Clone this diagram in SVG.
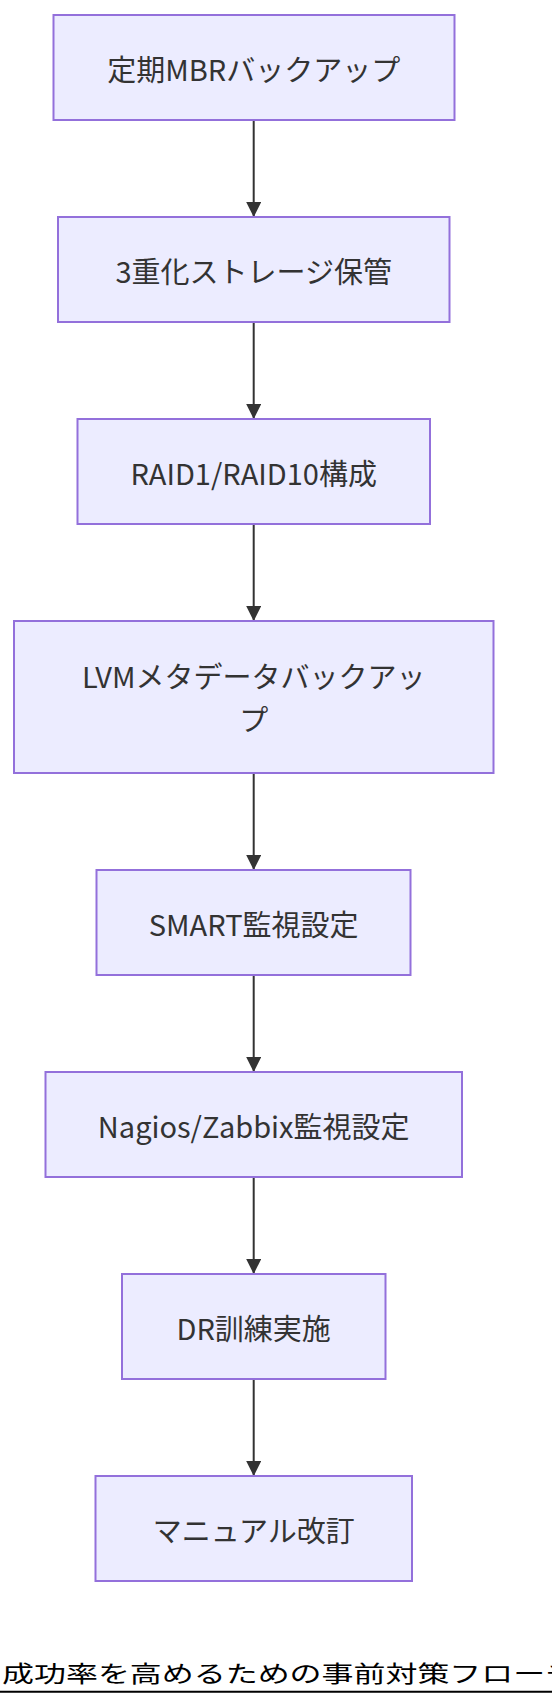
<svg xmlns="http://www.w3.org/2000/svg" width="552" height="1708" viewBox="0 0 552 1708">
<style>
.node rect{fill:#ECECFF;stroke:#9370DB;stroke-width:2;}
.node text{font-family:"Noto Sans CJK JP","Noto Sans",sans-serif;font-size:29px;fill:#333333;text-anchor:middle;dominant-baseline:central;}
.edge{stroke:#333333;stroke-width:2;fill:none;marker-end:url(#arrow);}
.title{font-family:"Noto Sans CJK JP","Noto Sans",sans-serif;font-size:23px;fill:#000000;dominant-baseline:central;}
</style>
<defs>
<marker id="arrow" viewBox="0 0 10 10" refX="10" refY="5" markerWidth="15" markerHeight="15" markerUnits="userSpaceOnUse" orient="auto">
<path d="M0,0 L10,5 L0,10 z" fill="#333333"/>
</marker>
</defs>
<rect width="552" height="1708" fill="#ffffff"/>
<g id="connectors">
<line class="edge" x1="253.7" y1="120" x2="253.7" y2="217"/>
<line class="edge" x1="253.7" y1="322" x2="253.7" y2="419"/>
<line class="edge" x1="253.7" y1="524" x2="253.7" y2="621"/>
<line class="edge" x1="253.7" y1="773" x2="253.7" y2="870"/>
<line class="edge" x1="253.7" y1="975" x2="253.7" y2="1072"/>
<line class="edge" x1="253.7" y1="1177" x2="253.7" y2="1274"/>
<line class="edge" x1="253.7" y1="1379" x2="253.7" y2="1476"/>
</g>
<g id="n1" class="node"><rect x="53.5" y="15" width="401" height="105"/><text x="253.7" y="67.5">定期MBRバックアップ</text></g>
<g id="n2" class="node"><rect x="58" y="217" width="391.5" height="105"/><text x="253.7" y="269.5">3重化ストレージ保管</text></g>
<g id="n3" class="node"><rect x="77.5" y="419" width="352.5" height="105"/><text x="253.7" y="471.5">RAID1/RAID10構成</text></g>
<g id="n4" class="node"><rect x="14" y="621" width="479.5" height="152"/><text x="253.7" y="675">LVMメタデータバックアッ</text><text x="253.7" y="718">プ</text></g>
<g id="n5" class="node"><rect x="96.5" y="870" width="314" height="105"/><text x="253.7" y="922.5">SMART監視設定</text></g>
<g id="n6" class="node"><rect x="45.5" y="1072" width="416.5" height="105"/><text x="253.7" y="1124.5">Nagios/Zabbix監視設定</text></g>
<g id="n7" class="node"><rect x="122" y="1274" width="263.5" height="105"/><text x="253.7" y="1326.5">DR訓練実施</text></g>
<g id="n8" class="node"><rect x="95.5" y="1476" width="316.5" height="105"/><text x="253.7" y="1528.5">マニュアル改訂</text></g>
<g id="title">
<text class="title" transform="scale(1.39,1)" x="1.5" y="1672">成功率を高めるための事前対策フローチャート</text>
<line x1="0" y1="1691.7" x2="552" y2="1691.7" stroke="#000000" stroke-width="2"/>
</g>
</svg>
